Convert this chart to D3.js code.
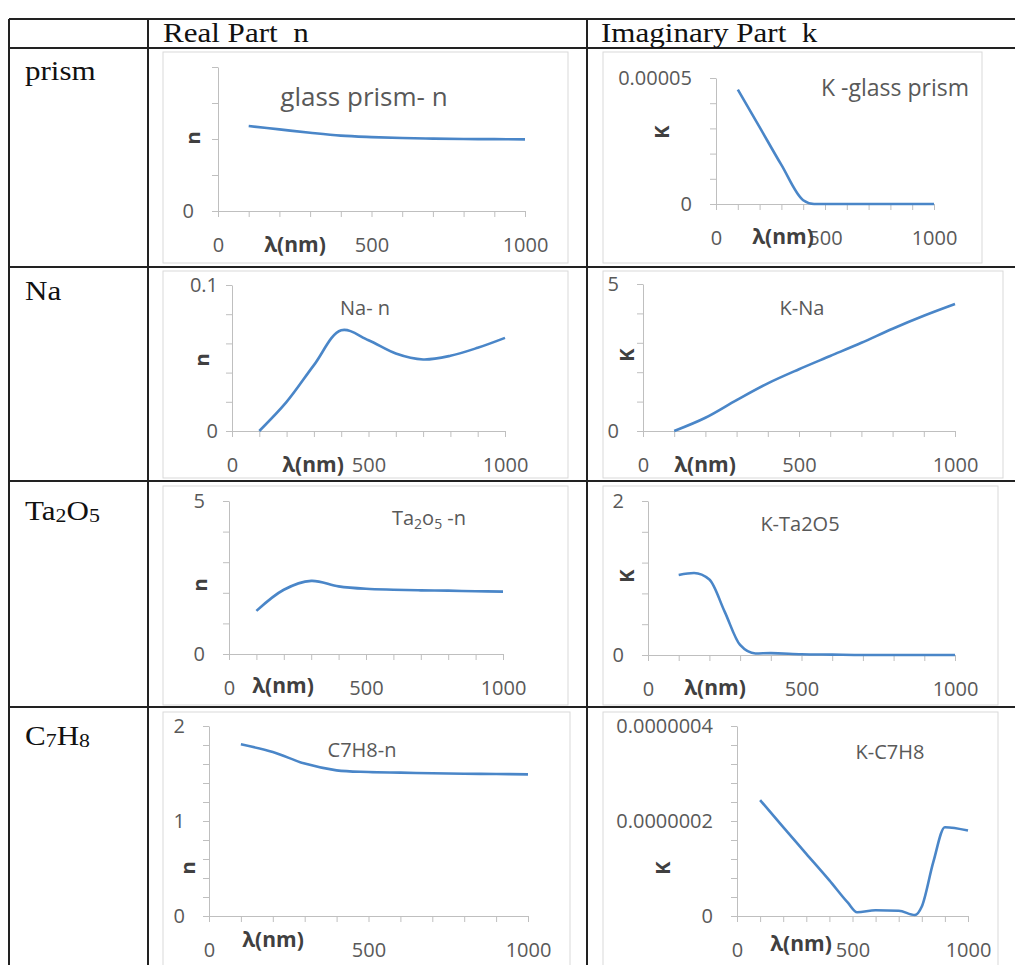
<!DOCTYPE html>
<html>
<head>
<meta charset="utf-8">
<script src="https://cdn.jsdelivr.net/npm/d3@7"></script>
<style>
  body { margin: 0; background: #fff; }
  svg { display: block; }
  text { white-space: pre; }
</style>
</head>
<body>
<svg id="sheet" width="1015" height="965"></svg>
<script>
// wavelengths (nm) and values
const lambda = [100, 200, 300, 400, 500, 600, 700, 800, 900, 1000];
const xTicks = [0, 100, 200, 300, 400, 500, 600, 700, 800, 900, 1000];
const xLabels = [0, 500, 1000];

const prismN = [1.77, 1.70, 1.63, 1.57, 1.54, 1.52, 1.507, 1.50, 1.497, 1.493];
const prismKLambda = [100, 200, 300, 400, 450, 500, 600, 700, 800, 900, 1000];
const prismK = [4.54e-5, 3.05e-5, 1.55e-5, 0.15e-5, 0, 0, 0, 0, 0, 0, 0];

const naN = [0, 0.0199, 0.0451, 0.069, 0.0622, 0.0531, 0.049, 0.0515, 0.057, 0.0638];
const naK = [0, 0.45, 1.05, 1.62, 2.10, 2.55, 3.00, 3.48, 3.92, 4.32];

const ta2o5N = [1.41, 2.10, 2.39, 2.21, 2.13, 2.10, 2.08, 2.07, 2.05, 2.04];
const ta2o5KLambda = [100, 150, 200, 250, 300, 350, 400, 500, 600, 700, 800, 900, 1000];
const ta2o5K = [1.04, 1.065, 0.98, 0.56, 0.13, 0.02, 0.025, 0.01, 0.005, 0, 0, 0, 0];

const c7h8N = [1.807, 1.726, 1.604, 1.533, 1.516, 1.509, 1.502, 1.498, 1.495, 1.491];
const c7h8KLambda = [100, 200, 300, 400, 480, 520, 600, 700, 770, 800, 850, 900, 1000];
const c7h8K = [2.44e-7, 1.87e-7, 1.31e-7, 0.75e-7, 0.28e-7, 0.08e-7, 0.12e-7, 0.11e-7, 0.02e-7, 0.2e-7, 1.14e-7, 1.87e-7, 1.80e-7];

const rowNames = [[['prism', 0]], [['Na', 0]], [['Ta', 0], ['2', 1], ['O', 0], ['5', 1]], [['C', 0], ['7', 1], ['H', 0], ['8', 1]]];
const colNames = ['Real Part  n', 'Imaginary Part  k'];

const svg = d3.select('#sheet');
const BLUE = '#4a86c8';
const SANS = '"Open Sans", "Liberation Sans", sans-serif';
const SERIF = '"Liberation Serif", "Times New Roman", serif';

function fmt(v) {
  if (v === 0) return '0';
  return v.toFixed(7).replace(/0+$/, '').replace(/\.$/, '');
}

class Table {
  constructor(elem) {
    this.elem = elem;
    this.left = 9;
    this.right = 1016;
    this.cols = [148, 587];
    this.rows = [19, 48, 267, 481, 707, 972];
  }

  draw() {
    this.rows.forEach(y => this.drawLine(this.left, y, this.right, y));
    [this.left].concat(this.cols, [this.right]).forEach(x => this.drawLine(x, this.rows[0], x, 972));

    this.drawSerif(163, 42, [[colNames[0], 0]]);
    this.drawSerif(601, 42, [[colNames[1], 0]]);
    const baselines = [80, 300, 520, 745];
    rowNames.forEach((name, i) => this.drawSerif(25, baselines[i], name));
  }

  drawLine(x1, y1, x2, y2) {
    this.elem.append('line')
        .attr('x1', x1).attr('y1', y1)
        .attr('x2', x2).attr('y2', y2)
        .attr('stroke', '#222')
        .attr('stroke-width', 2);
  }

  drawSerif(x, y, parts) {
    const t = this.elem.append('text')
        .attr('transform', `translate(${x},${y}) scale(1.15,1)`)
        .attr('font-family', SERIF)
        .attr('font-size', 27)
        .attr('fill', '#111');
    parts.forEach(p => {
      t.append('tspan')
          .attr('font-size', p[1] ? 19 : 27)
          .attr('baseline-shift', p[1] ? '-12%' : null)
          .text(p[0]);
    });
  }
}

class Panel {
  constructor(elem, o) {
    this.elem = elem;
    this.o = o;
    this.x = d3.scaleLinear().domain([0, 1000]).range([o.plot[0], o.plot[1]]);
    this.y = d3.scaleLinear().domain([0, o.yMax]).range([o.plot[2], o.plot[3]]);
  }

  draw() {
    this.drawBox();
    this.drawAxes();
    this.drawSeries();
    this.drawTitle();
  }

  drawBox() {
    const b = this.o.box;
    this.elem.append('rect')
        .attr('x', b[0]).attr('y', b[1])
        .attr('width', b[2] - b[0]).attr('height', b[3] - b[1])
        .attr('fill', '#fff')
        .attr('stroke', '#d9d9d9');
  }

  drawAxes() {
    const o = this.o;
    const xAxis = d3.axisBottom(this.x)
        .tickValues(xTicks)
        .tickSize(6)
        .tickSizeOuter(0)
        .tickFormat(d => xLabels.includes(d) ? fmt(d) : '');
    this.elem.append('g')
        .attr('transform', `translate(0,${o.plot[2]})`)
        .call(xAxis)
        .call(g => g.select('.domain').attr('stroke', '#bfbfbf'))
        .call(g => g.selectAll('line').attr('stroke', '#bfbfbf'))
        .call(g => g.selectAll('text')
            .attr('y', 34).attr('dy', '0.35em')
            .attr('fill', '#595959')
            .attr('font-family', SANS)
            .attr('font-size', 20));

    const yTicks = d3.range(o.yCount + 1).map(i => o.yMax * i / o.yCount);
    const yAxis = d3.axisLeft(this.y)
        .tickValues(yTicks)
        .tickSize(6)
        .tickSizeOuter(0)
        .tickFormat(d => o.yLabels.some(v => Math.abs(v - d) < o.yMax * 1e-6) ? fmt(d) : '');
    this.elem.append('g')
        .attr('transform', `translate(${o.plot[0]},0)`)
        .call(yAxis)
        .call(g => g.select('.domain').attr('stroke', '#bfbfbf'))
        .call(g => g.selectAll('line').attr('stroke', '#bfbfbf'))
        .call(g => g.selectAll('text')
            .attr('x', -(o.yGap || 24))
            .attr('fill', '#595959')
            .attr('font-family', SANS)
            .attr('font-size', 20));

    this.elem.append('text')
        .attr('x', o.xTitle[0]).attr('y', o.xTitle[1])
        .attr('dy', '0.35em')
        .attr('text-anchor', 'middle')
        .attr('font-family', SANS)
        .attr('font-weight', 'bold')
        .attr('font-size', 21)
        .attr('fill', '#404040')
        .text('λ(nm)');

    this.elem.append('text')
        .attr('transform', `translate(${o.yTitle[0]},${o.yTitle[1]}) rotate(-90)`)
        .attr('dy', '0.35em')
        .attr('text-anchor', 'middle')
        .attr('font-family', SANS)
        .attr('font-weight', 'bold')
        .attr('font-size', 20)
        .attr('fill', '#404040')
        .text(o.yName);
  }

  drawSeries() {
    const xs = this.o.xs;
    const ys = this.o.ys;
    const line = d3.line()
        .x((d, i) => this.x(xs[i]))
        .y(d => this.y(d))
        .curve(this.o.smooth ? d3.curveCatmullRom.alpha(0.5) : d3.curveMonotoneX);
    this.elem.append('path')
        .attr('d', line(ys))
        .attr('fill', 'none')
        .attr('stroke', BLUE)
        .attr('stroke-width', 2.6)
        .attr('stroke-linejoin', 'round');
  }

  drawTitle() {
    const o = this.o;
    const t = this.elem.append('text')
        .attr('x', o.title[0]).attr('y', o.title[1])
        .attr('dy', '0.35em')
        .attr('text-anchor', 'middle')
        .attr('font-family', SANS)
        .attr('font-size', o.titleSize)
        .attr('fill', '#595959');
    o.titleParts.forEach(p => {
      t.append('tspan')
          .attr('font-size', p[1] ? o.titleSize * 0.7 : o.titleSize)
          .attr('baseline-shift', p[1] ? '-25%' : null)
          .text(p[0]);
    });
  }
}

new Table(svg).draw();

const panels = [
  {box: [163, 52, 568, 263], plot: [218, 525, 211, 67], yMax: 3, yCount: 4, yLabels: [0], smooth: true,
   xs: lambda, ys: prismN, yName: 'n', title: [364, 97], titleSize: 26,
   titleParts: [['glass prism- n', 0]], xTitle: [295, 245], yTitle: [193, 138]},
  {box: [603, 52, 982, 263], plot: [716, 934, 204, 78], yMax: 5e-5, yCount: 5, yLabels: [0, 5e-5],
   xs: prismKLambda, ys: prismK, yName: 'K', title: [895, 88], titleSize: 23,
   titleParts: [['K -glass prism', 0]], xTitle: [783, 237], yTitle: [662, 132]},
  {box: [163, 271, 568, 478], plot: [232, 505, 431, 285], yMax: 0.1, yCount: 5, yLabels: [0, 0.1], yGap: 14, smooth: true,
   xs: lambda, ys: naN, yName: 'n', title: [365, 308], titleSize: 20,
   titleParts: [['Na- n', 0]], xTitle: [313, 465], yTitle: [202, 360]},
  {box: [603, 271, 1003, 478], plot: [643, 955, 431, 284], yMax: 5, yCount: 5, yLabels: [0, 5], smooth: true,
   xs: lambda, ys: naK, yName: 'K', title: [802, 308], titleSize: 20,
   titleParts: [['K-Na', 0]], xTitle: [705, 465], yTitle: [627, 355]},
  {box: [163, 486, 568, 705], plot: [229, 503, 654, 501], yMax: 5, yCount: 5, yLabels: [0, 5], smooth: true,
   xs: lambda, ys: ta2o5N, yName: 'n', title: [429, 518], titleSize: 20,
   titleParts: [['Ta', 0], ['2', 1], ['o', 0], ['5', 1], [' -n', 0]], xTitle: [283, 686], yTitle: [200, 585]},
  {box: [603, 486, 998, 705], plot: [648, 955, 655, 501], yMax: 2, yCount: 5, yLabels: [0, 2],
   xs: ta2o5KLambda, ys: ta2o5K, yName: 'K', title: [800, 524], titleSize: 20,
   titleParts: [['K-Ta2O5', 0]], xTitle: [715, 688], yTitle: [627, 576]},
  {box: [163, 712, 570, 975], plot: [209, 528, 916, 726], yMax: 2, yCount: 10, yLabels: [0, 1, 2], smooth: true,
   xs: lambda, ys: c7h8N, yName: 'n', title: [362, 750], titleSize: 20,
   titleParts: [['C7H8-n', 0]], xTitle: [273, 940], yTitle: [188, 868]},
  {box: [603, 712, 998, 975], plot: [737, 968, 916, 726], yMax: 4e-7, yCount: 10, yLabels: [0, 2e-7, 4e-7],
   xs: c7h8KLambda, ys: c7h8K, yName: 'K', title: [890, 752], titleSize: 20,
   titleParts: [['K-C7H8', 0]], xTitle: [801, 944], yTitle: [663, 868]}
];

panels.forEach(p => new Panel(svg, p).draw());
</script>
</body>
</html>
